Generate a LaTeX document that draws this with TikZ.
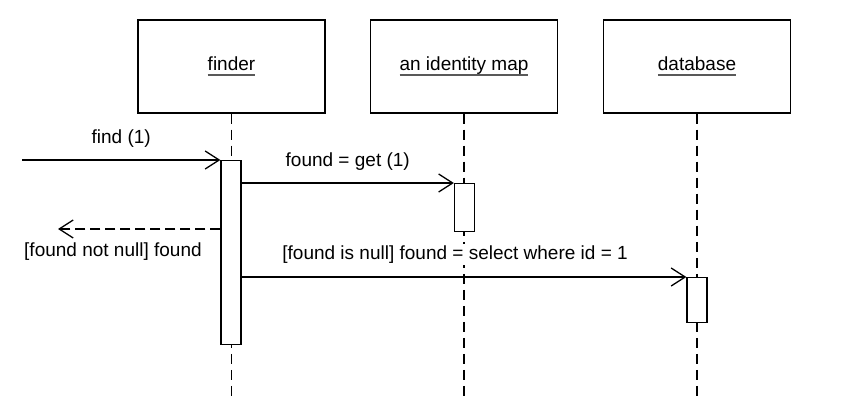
\documentclass[tikz,border=0pt]{standalone}
\usepackage{fontspec}
\setmainfont{Liberation Sans}
\usetikzlibrary{arrows.meta,positioning}
\newcommand{\objtext}[1]{\setbox0\hbox{#1}\leavevmode\rlap{\raisebox{-6pt}{\color{black!65}\rule{\wd0}{2pt}}}\box0}
\tikzset{
	obj/.style={draw, line width=1.5pt, minimum width=187pt, minimum height=93pt, inner sep=0pt, font=\fontsize{19}{22}\selectfont},
	act/.style={draw, fill=white, line width=1.3pt, minimum width=20pt, inner sep=0pt, anchor=north},
	life/.style={line width=1.3pt, dash pattern=on 10pt off 6pt},
	msg/.style={line width=1.3pt, -{Straight Barb[length=14pt,width=18pt,line width=1.3pt]}},
	ret/.style={msg, dash pattern=on 10pt off 5pt},
	lbl/.style={font=\fontsize{19}{22}\selectfont, inner sep=2pt}
}
\begin{document}
\begin{tikzpicture}[x=1pt,y=-1pt]
	\useasboundingbox (0,0) rectangle (861,403);
	
	% objects
	\node[obj] (finder) at (231.5,66.5) {\objtext{finder}};
	\node[obj] (idmap) at (464,66.5) {\objtext{an identity map}};
	\node[obj] (db) at (697,66.5) {\objtext{database}};
	
	% lifelines
	\coordinate (finderEnd) at (231,398);
	\coordinate (idmapEnd) at (465,398);
	\coordinate (dbEnd) at (697,398);
	\draw[life] (finder.south) -- (finder.south |- finderEnd); %finder
	\draw[life] (idmap.south) -- (idmap.south |- idmapEnd); %identity map
	\draw[life] (db.south) -- (db.south |- dbEnd); %database
	
	% activations
	\node[act, minimum height=184pt] (finderAct) at (231,160) {};
	\node[act, minimum height=48pt] (idmapAct) at (464.5,183) {};
	\node[act, minimum height=45pt] (dbAct) at (697,277) {};
	
	% messages
	\coordinate (start) at (22,160);
	\coordinate (back) at (58,229);
	\coordinate (retFrom) at (finderAct.west |- back);
	\draw[msg] (start) -- (finderAct.north west) node[lbl, midway, above=10pt] (findLbl) {find (1)}; %find
	\draw[ret] (retFrom) -- (back); %return
	\node[lbl, anchor=north west] (retLbl) at (22,241) {[found not null] found};
	\draw[msg] (finderAct.east |- idmapAct.north) -- (idmapAct.north west) node[lbl, midway, above=10pt] (getLbl) {found = get (1)}; %get
	\draw[msg] (finderAct.east |- dbAct.north) -- (dbAct.north west) node[lbl, fill=white, pos=0.48, above=11pt] (selLbl) {[found is null] found = select where id = 1}; %select
\end{tikzpicture}
\end{document}
